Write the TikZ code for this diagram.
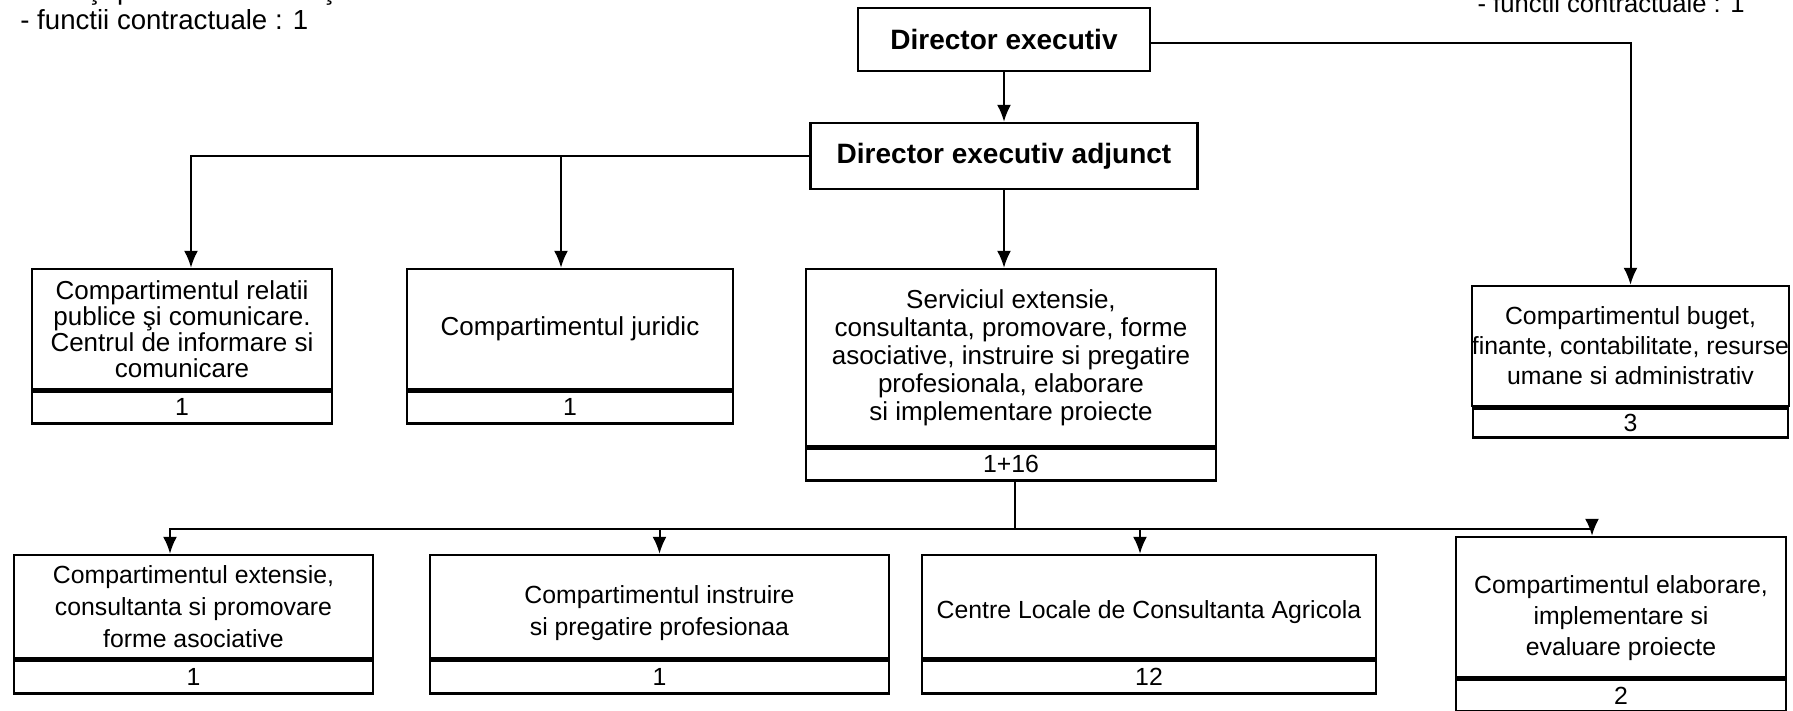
\documentclass[tikz,border=0pt]{standalone}
\usepackage{fontspec}
\setmainfont{Liberation Sans}
\usetikzlibrary{arrows.meta,calc}
\begin{document}
\begin{tikzpicture}[x=0.5pt,y=-0.5pt,
  box/.style={draw,line width=1.2pt,inner sep=0pt,align=center,font=\fontsize{12.4}{14}\selectfont},
  numbox/.style={draw,line width=1.2pt,inner sep=0pt,anchor=north,font=\fontsize{12.4}{14}\selectfont},
  head/.style={draw,line width=1.2pt,inner sep=0pt,font=\bfseries\fontsize{14}{16}\selectfont},
  conn/.style={line width=1pt},
  arr/.style={line width=1pt,-{Latex[length=8.5pt,width=7pt]}},
  note/.style={inner sep=0pt,font=\fontsize{13.8}{16}\selectfont}]
\useasboundingbox (0,0) rectangle (1793,711);

% header notes
\node[note,anchor=base west] (n0) at (20,0) {- funcţii publice de execuţie : 21};
\node[note,anchor=base west] (n1) at (20,30) {- functii contractuale : 1};
\node[note,anchor=base east,font=\fontsize{12.8}{15}\selectfont] (n2) at (1745,13) {- functii contractuale : 1};

% directors
\node[head,minimum width=146pt,minimum height=31.5pt] (de) at (1004,39.5) {Director executiv};
\node[head,minimum width=193.5pt,minimum height=33pt] (dea) at (1004,156) {Director executiv adjunct};

% second row
\node[box,minimum width=150pt,minimum height=60pt,font=\fontsize{13}{13}\selectfont] (b1) at (182,329)
  {Compartimentul relatii\\publice şi comunicare.\\Centrul de informare si\\comunicare};
\node[numbox,minimum width=150pt,minimum height=16pt] (b1n) at (b1.south) {1};

\node[box,minimum width=163pt,minimum height=60pt,font=\fontsize{13}{14}\selectfont] (jur) at (570,329) {Compartimentul juridic};
\node[numbox,minimum width=163pt,minimum height=16pt] (jurn) at (jur.south) {1};

\node[box,minimum width=205pt,minimum height=88.5pt,font=\fontsize{13}{14}\selectfont] (serv) at (1011,357.5)
  {Serviciul extensie,\\consultanta, promovare, forme\\asociative, instruire si pregatire\\profesionala, elaborare\\si implementare proiecte};
\node[numbox,minimum width=205pt,minimum height=16pt] (servn) at (serv.south) {1+16};

\node[box,minimum width=157.5pt,minimum height=60pt,font=\fontsize{12.4}{15}\selectfont] (bug) at (1630.5,346)
  {Compartimentul buget,\\finante, contabilitate, resurse\\umane si administrativ};
\node[numbox,minimum width=157.5pt,minimum height=14.5pt] (bugn) at (bug.south) {3};

% third row
\node[box,minimum width=179.5pt,minimum height=51.5pt,font=\fontsize{12.4}{16}\selectfont] (ca) at (193.5,606.5)
  {Compartimentul extensie,\\consultanta si promovare\\forme asociative};
\node[numbox,minimum width=179.5pt,minimum height=16.5pt] (can) at (ca.south) {1};

\node[box,minimum width=229.5pt,minimum height=51.5pt,font=\fontsize{12.4}{16}\selectfont] (cb) at (659.5,606.5)
  {\rule{0pt}{16pt}Compartimentul instruire\\si pregatire profesionaa};
\node[numbox,minimum width=229.5pt,minimum height=16.5pt] (cbn) at (cb.south) {1};

\node[box,minimum width=227pt,minimum height=51.5pt] (cc) at (1149,606.5)
  {\rule{0pt}{15pt}Centre Locale de Consultanta Agricola};
\node[numbox,minimum width=227pt,minimum height=16.5pt] (ccn) at (cc.south) {12};

\node[box,minimum width=165pt,minimum height=70pt,font=\fontsize{12.4}{15.5}\selectfont] (cd) at (1621,607)
  {\rule{0pt}{20pt}Compartimentul elaborare,\\implementare si\\evaluare proiecte};
\node[numbox,minimum width=165pt,minimum height=16pt] (cdn) at (cd.south) {2};

% connectors
\draw[arr] (de.south) -- (dea.north);
\draw[arr] ([yshift=-1.75pt]de.east) -| (bug.north);
\draw[arr] (dea.west) -| ([xshift=4.5pt]b1.north);
\draw[arr] ([xshift=-4.5pt]jur.north |- dea.west) -- ([xshift=-4.5pt]jur.north);
\draw[arr] (dea.south) -- (dea.south |- serv.north);
\draw[conn] ([xshift=2pt]servn.south) -- ++(0,47) coordinate (bus);
\draw[arr] (bus) -| ([xshift=-11.75pt]ca.north);
\draw[arr] (bus) -| ([xshift=-14.5pt]cd.north);
\draw[arr] (bus -| cb.north) -- (cb.north);
\draw[arr] ([xshift=-4.5pt]cc.north |- bus) -- ([xshift=-4.5pt]cc.north);
\end{tikzpicture}
\end{document}
